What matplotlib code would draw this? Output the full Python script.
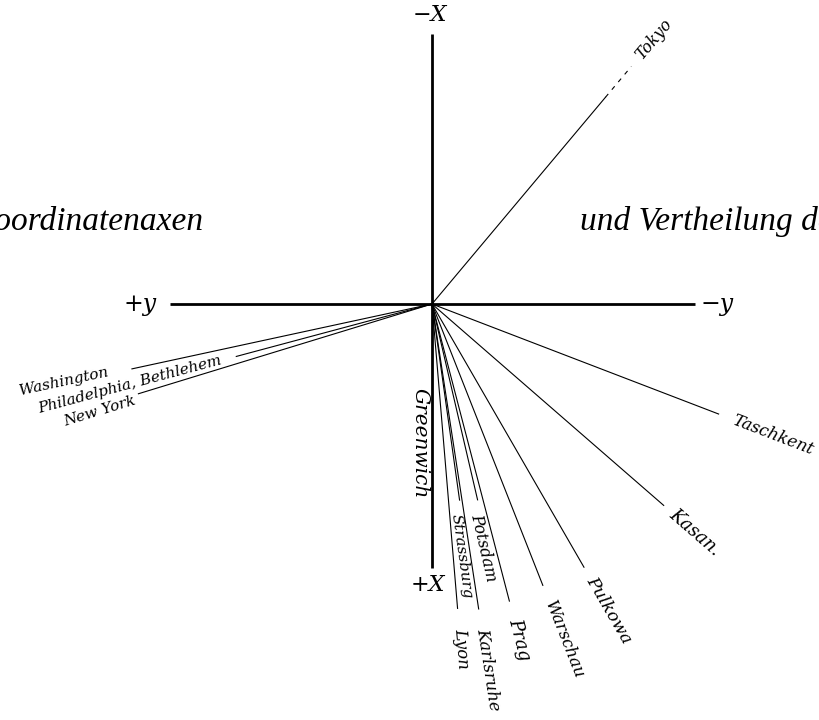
import numpy as np
import matplotlib
matplotlib.use("Agg")
import matplotlib.pyplot as plt

# ---- data ----
stations = ["Lyon", "Strassburg", "Karlsruhe", "Potsdam", "Prag", "Warschau",
            "Pulkowa", "Kasan.", "Taschkent", "Tokyo",
            "Washington", "Philadelphia, Bethlehem", "New York"]
# angle of each ray (degrees), measured from +X towards -y (east of Greenwich)
longitudes = [4.8, 8.0, 8.7, 13.1, 14.6, 21.5, 30.0, 49.0, 69.0, 140.0,
              -77.8, -75.0, -73.0]
# relative length of each ray (1 = full radius)
ray_length = [0.995, 0.645, 1.005, 0.655, 1.0, 0.985, 0.99, 1.0, 1.0, 1.01,
              1.0, 0.66, 1.0]
axis_labels = ["\u2212X", "+X", "+y", "\u2212y"]
meridian_label = "Greenwich"
caption_left = "Coordinatenaxen"
caption_right = "und Vertheilung der"

# ---- layout / style ----
R = 307.0                     # radius in pixels
label_pad = [20, 13, 20, 13, 18, 17, 12, 10, 15, 12, 24, 15, 5]
label_side = [0, -6, 0, -5, 0, 0, 0, 0, 0, 0, -2, 0, 5]   # sideways shift (px)
label_size = [12, 11, 12, 11.5, 13, 12, 12.5, 13, 12, 11.5, 11, 11, 11]

fig = plt.figure(figsize=(8.2, 7.2), dpi=100)
ax = fig.add_axes([0, 0, 1, 1])
ax.set_xlim(-432, 388)
ax.set_ylim(-416, 304)
ax.axis("off")

serif_it = dict(family="DejaVu Serif", style="italic")
lib_it = dict(family="Liberation Serif", style="italic")

# coordinate axes
ax.plot([0, 0], [270, -264], color="black", lw=2.0, solid_capstyle="butt")
ax.plot([-262, 263], [0, 0], color="black", lw=2.0, solid_capstyle="butt")

# station rays
for name, lon, L, pad, side, fs in zip(stations, longitudes, ray_length,
                                       label_pad, label_side, label_size):
    th = np.deg2rad(lon)
    dx, dy = np.sin(th), -np.cos(th)
    r = L * R
    if name == "Tokyo":
        ax.plot([0, 0.87 * r * dx], [0, 0.87 * r * dy], color="black", lw=0.8)
        ax.plot([0.87 * r * dx, r * dx], [0.87 * r * dy, r * dy], color="black",
                lw=0.8, dashes=(4, 5))
    else:
        ax.plot([0, r * dx], [0, r * dy], color="black", lw=0.8)
    ang = np.degrees(np.arctan2(dy, dx))
    # unit vector perpendicular to the ray (screen-right for eastern rays,
    # mostly screen-down for western rays)
    px, py = -dy, dx
    if dx >= 0 and px < 0:
        px, py = -px, -py
    ex = (r + pad) * dx + side * px
    ey = (r + pad) * dy + side * py
    if dx < 0:
        rot, ha = ang + 180, "right"
    else:
        rot, ha = ang, "left"
    ax.text(ex, ey, name, rotation=rot, rotation_mode="anchor", ha=ha,
            va="center", fontsize=fs, **serif_it)

# Greenwich label along +X axis
ax.text(-12, -139, meridian_label, rotation=-90, ha="center", va="center",
        fontsize=14.5, **serif_it)

# axis end labels
ax.text(-2, 289, axis_labels[0], ha="center", va="center", fontsize=16, **serif_it)
ax.text(-4, -281, axis_labels[1], ha="center", va="center", fontsize=16, **serif_it)
ax.text(-292, -1, axis_labels[2], ha="center", va="center", fontsize=17, **serif_it)
ax.text(285, -1, axis_labels[3], ha="center", va="center", fontsize=17, **serif_it)

# captions (cut by the page edges)
ax.text(-229, 74, caption_left, ha="right", va="baseline", fontsize=24, **lib_it)
ax.text(148, 74, caption_right, ha="left", va="baseline", fontsize=24, **lib_it)

fig.savefig("out.png", dpi=100, facecolor="white")
